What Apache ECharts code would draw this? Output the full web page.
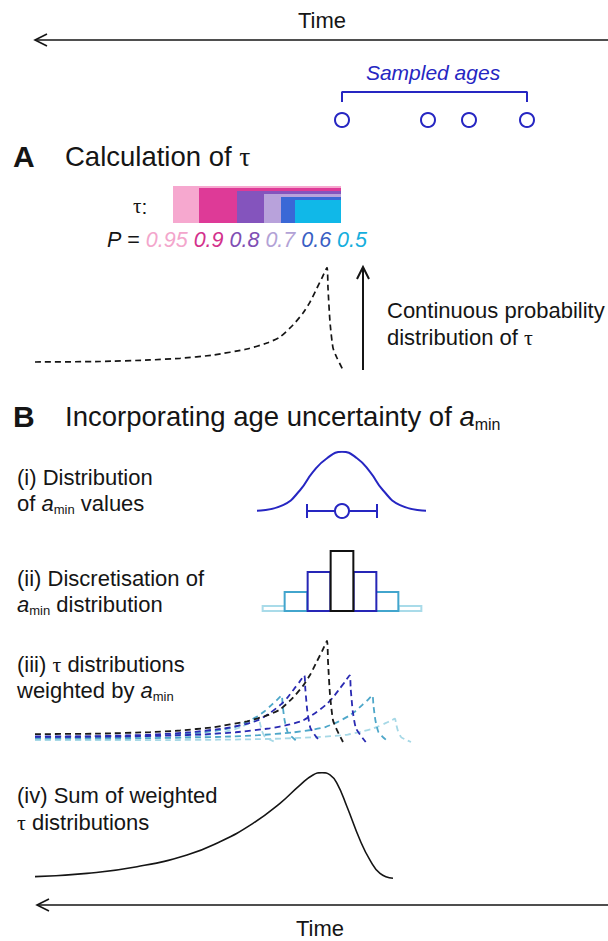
<!DOCTYPE html>
<html><head><meta charset="utf-8">
<script src="https://cdn.jsdelivr.net/npm/echarts@6/dist/echarts.min.js"></script>
<style>html,body{margin:0;padding:0;background:#fff}#c{width:608px;height:941px}</style>
</head><body><div id="c"></div>
<script>
// ---------------- data (x values are positions on the time axis) ----------------
const sampledAges = [342, 428, 469, 527];

const pLevels   = ['0.95', '0.9', '0.8', '0.7', '0.6', '0.5'];
const tauStart  = [173, 199, 237, 264, 281, 295];
const tauEnd    = 341;
const tauHeight = [1.0, 0.946, 0.865, 0.784, 0.703, 0.622];
const tauColors = ['#f6a8cf', '#de3a97', '#8454bd', '#b8a2db', '#3a68d6', '#10b8e8'];
const pColors   = ['#f3a6cc', '#d3318c', '#7f4fb4', '#b2a2d6', '#3a5fc4', '#14aedd'];

const tauCurveX = [35, 100, 150, 180, 213, 247, 267, 280, 293, 303, 310, 317, 322, 327, 328, 330, 333, 337, 343];
const tauCurveY = [0.078, 0.083, 0.098, 0.114, 0.146, 0.205, 0.263, 0.322, 0.439, 0.556, 0.663, 0.800, 0.898, 1.000, 0.800, 0.468, 0.215, 0.117, 0.000];

const gaussX = [257, 283, 300, 313, 327, 342, 357, 370, 383, 400, 426];
const gaussY = [0.005, 0.10, 0.35, 0.66, 0.89, 1.00, 0.89, 0.66, 0.35, 0.10, 0.005];
const aminMean = 342, aminLow = 307, aminHigh = 377;

const binCentres = [274, 296, 319, 342, 365, 387, 410];
const binWeights = [0.083, 0.317, 0.65, 1.0, 0.65, 0.317, 0.083];
const binClass   = [0, 1, 2, 3, 2, 1, 0];
const binWidth   = 22.7;

const weightedShift  = [-68, -45.4, -22.7, 0, 22.7, 45.4, 68];
const weightedHeight = [0.23, 0.46, 0.66, 1.0, 0.66, 0.46, 0.23];

const sumX = [35, 87, 137, 187, 220, 253, 280, 300, 313, 322, 330, 337, 347, 360, 370, 380, 393];
const sumY = [0.031, 0.062, 0.124, 0.233, 0.357, 0.528, 0.715, 0.885, 0.979, 1.0, 0.979, 0.901, 0.683, 0.373, 0.186, 0.062, 0.016];

// ---------------- styles ----------------
const FONT = '"Liberation Sans", Arial, sans-serif';
const SERIF = '"Liberation Serif", "DejaVu Serif", serif';
const INK = '#151515';
const BLUE = '#2626c2';
const histStroke = ['#a9dbe9', '#42a5cd', '#2626b6', '#111111'];
const curveStroke = ['#a6d8e6', '#4ea7c9', '#2a2ab2', '#1a1a1a'];

const grids = [
  {left: 0, right: 0, top: 92,    height: 28},     // 0 sampled ages
  {left: 0, right: 0, top: 186,   height: 37},     // 1 tau bar
  {left: 0, right: 0, top: 267.5, height: 102.5},  // 2 A curve
  {left: 0, right: 0, top: 451.7, height: 59.3},   // 3 gaussian
  {left: 0, right: 0, top: 551,   height: 60},     // 4 histogram
  {left: 35, right: 0, top: 641,  height: 101},    // 5 weighted curves
  {left: 0, right: 0, top: 772.7, height: 107.3}   // 6 sum
];
const xAxes = grids.map((g, i) => ({type: 'value', gridIndex: i, min: i === 5 ? 35 : 0, max: 608, show: false}));
const yAxes = grids.map((g, i) => ({type: 'value', gridIndex: i, min: 0, max: 1, show: false}));

const zip = (xs, ys) => xs.map((x, i) => [x, ys[i]]);

function weightedCurve(shift, w) {
  const pts = tauCurveX.map((x, i) => [x + shift, tauCurveY[i] * w]).filter(p => p[0] >= 35);
  if (pts[0][0] > 35) pts.unshift([35, pts[0][1]]);
  return pts;
}

const series = [];

// sampled ages bracket + circles
const aMin = Math.min(...sampledAges), aMax = Math.max(...sampledAges);
series.push({type: 'line', xAxisIndex: 0, yAxisIndex: 0, symbol: 'none', silent: true,
  data: [[aMin, 0.64], [aMin, 1], [aMax, 1], [aMax, 0.64]],
  lineStyle: {color: BLUE, width: 2}});
series.push({type: 'scatter', xAxisIndex: 0, yAxisIndex: 0, symbol: 'circle', symbolSize: 14, silent: true,
  data: sampledAges.map(a => [a, 0]),
  itemStyle: {color: '#fff', borderColor: BLUE, borderWidth: 2, opacity: 1}});

// tau bar
series.push({type: 'custom', xAxisIndex: 1, yAxisIndex: 1, silent: true,
  data: tauStart.map((s, i) => [s, tauEnd, tauHeight[i]]),
  renderItem: (params, api) => {
    const p0 = api.coord([api.value(0), api.value(2)]);
    const p1 = api.coord([api.value(1), 0]);
    return {type: 'rect', shape: {x: p0[0], y: p0[1], width: p1[0] - p0[0], height: p1[1] - p0[1]},
      style: {fill: tauColors[params.dataIndex]}};
  }});

// A: continuous tau distribution
series.push({type: 'line', xAxisIndex: 2, yAxisIndex: 2, symbol: 'none', smooth: 0.2, silent: true,
  data: zip(tauCurveX, tauCurveY), lineStyle: {color: INK, width: 1.7, type: [6, 4]}});

// B(i) gaussian + error bar
series.push({type: 'line', xAxisIndex: 3, yAxisIndex: 3, symbol: 'none', smooth: true, silent: true,
  data: zip(gaussX, gaussY), lineStyle: {color: BLUE, width: 2}});
series.push({type: 'custom', xAxisIndex: 3, yAxisIndex: 3, silent: true,
  data: [[aminLow, aminHigh, 0]],
  renderItem: (params, api) => {
    const l = api.coord([api.value(0), api.value(2)]);
    const r = api.coord([api.value(1), api.value(2)]);
    const st = {stroke: BLUE, lineWidth: 2};
    return {type: 'group', children: [
      {type: 'line', shape: {x1: l[0], y1: l[1], x2: r[0], y2: r[1]}, style: st},
      {type: 'line', shape: {x1: l[0], y1: l[1] - 7, x2: l[0], y2: l[1] + 7}, style: st},
      {type: 'line', shape: {x1: r[0], y1: r[1] - 7, x2: r[0], y2: r[1] + 7}, style: st}
    ]};
  }});
series.push({type: 'scatter', xAxisIndex: 3, yAxisIndex: 3, symbol: 'circle', symbolSize: 14, z: 5, silent: true,
  data: [[aminMean, 0]], itemStyle: {color: '#fff', borderColor: BLUE, borderWidth: 2, opacity: 1}});

// B(ii) histogram (drawn light -> dark)
const histOrder = binCentres.map((c, i) => i).sort((a, b) => binClass[a] - binClass[b]);
series.push({type: 'custom', xAxisIndex: 4, yAxisIndex: 4, silent: true,
  data: histOrder.map(i => [binCentres[i], binWeights[i], binClass[i]]),
  renderItem: (params, api) => {
    const c = api.value(0), h = api.value(1), k = api.value(2);
    const p0 = api.coord([c - binWidth / 2, h]);
    const p1 = api.coord([c + binWidth / 2, 0]);
    return {type: 'rect', shape: {x: p0[0], y: p0[1], width: p1[0] - p0[0], height: p1[1] - p0[1]},
      style: {fill: '#fff', stroke: histStroke[k], lineWidth: 2}};
  }});

// B(iii) weighted tau distributions
const wOrder = weightedShift.map((s, i) => i).sort((a, b) => binClass[a] - binClass[b]);
wOrder.forEach(i => {
  series.push({type: 'line', xAxisIndex: 5, yAxisIndex: 5, symbol: 'none', smooth: 0.2, silent: true,
    data: weightedCurve(weightedShift[i], weightedHeight[i]),
    lineStyle: {color: curveStroke[binClass[i]], width: 1.8, type: [6, 4]}});
});

// B(iv) sum
series.push({type: 'line', xAxisIndex: 6, yAxisIndex: 6, symbol: 'none', smooth: true, silent: true,
  data: zip(sumX, sumY), lineStyle: {color: INK, width: 1.6}});

// ---------------- text & arrows ----------------
function txt(x, y, text, size, extra) {
  return {type: 'text', x: x, y: y, silent: true,
    style: Object.assign({text: text, fill: INK, font: size + 'px ' + FONT, verticalAlign: 'middle', lineHeight: Math.round(size * 1.2)}, extra || {})};
}
const subRich = (size) => ({
  a: {fontStyle: 'italic', fontSize: size, fontFamily: FONT, fill: INK},
  s: {fontSize: Math.round(size * 0.58), fontFamily: FONT, fill: INK, verticalAlign: 'bottom', lineHeight: Math.round(size * 0.62)},
  t: {fontSize: size, fontFamily: SERIF, fill: INK}
});
function arrowH(x1, x2, y) {
  return [
    {type: 'line', silent: true, shape: {x1: x1, y1: y, x2: x2, y2: y}, style: {stroke: INK, lineWidth: 1.6}},
    {type: 'polyline', silent: true, shape: {points: [[x1 + 12, y - 6], [x1, y], [x1 + 12, y + 6]]}, style: {stroke: INK, lineWidth: 1.6, fill: null}}
  ];
}

let pRow = '{p|P} = ';
pLevels.forEach((p, i) => { pRow += '{c' + i + '|' + p + '}' + (i < pLevels.length - 1 ? ' ' : ''); });
const pRich = {p: {fontStyle: 'italic', fontSize: 21.5, fontFamily: FONT, fill: INK}};
pLevels.forEach((p, i) => { pRich['c' + i] = {fontStyle: 'italic', fontSize: 21.5, fontFamily: FONT, fill: pColors[i]}; });

const graphics = [].concat(
  arrowH(35, 608, 40),
  arrowH(37, 608, 905),
  [
    txt(322, 20, 'Time', 22, {align: 'center'}),
    txt(320, 928, 'Time', 22, {align: 'center'}),
    txt(433, 72, 'Sampled ages', 21, {align: 'center', fill: BLUE, font: 'italic 21px ' + FONT}),
    txt(13, 156, 'A', 30, {font: 'bold 30px ' + FONT}),
    txt(65, 156, 'Calculation of {t|τ}', 27.5, {rich: subRich(27.5)}),
    txt(133, 206, '{t|τ}:', 21, {rich: subRich(21)}),
    txt(107, 240, pRow, 21.5, {rich: pRich}),
    txt(387, 310, 'Continuous probability', 22),
    txt(387, 337, 'distribution of {t|τ}', 22, {rich: subRich(22)}),
    txt(13, 416, 'B', 30, {font: 'bold 30px ' + FONT}),
    txt(65, 416, 'Incorporating age uncertainty of {a|a}{s|min}', 27.5, {rich: subRich(27.5)}),
    txt(17, 477, '(i) Distribution', 22),
    txt(17, 503, 'of {a|a}{s|min} values', 22, {rich: subRich(22)}),
    txt(17, 578, '(ii) Discretisation of', 22),
    txt(17, 604, '{a|a}{s|min} distribution', 22, {rich: subRich(22)}),
    txt(17, 664, '(iii) {t|τ} distributions', 22, {rich: subRich(22)}),
    txt(17, 690, 'weighted by {a|a}{s|min}', 22, {rich: subRich(22)}),
    txt(17, 795, '(iv) Sum of weighted', 22),
    txt(17, 822, '{t|τ} distributions', 22, {rich: subRich(22)}),
    {type: 'line', silent: true, shape: {x1: 363, y1: 370, x2: 363, y2: 267}, style: {stroke: INK, lineWidth: 2}},
    {type: 'polyline', silent: true, shape: {points: [[357, 279], [363, 267], [369, 279]]}, style: {stroke: INK, lineWidth: 2, fill: null}}
  ]
);

const chart = echarts.init(document.getElementById('c'), null, {renderer: 'svg'});
chart.setOption({
  animation: false,
  backgroundColor: '#fff',
  grid: grids,
  xAxis: xAxes,
  yAxis: yAxes,
  series: series,
  graphic: graphics
});
</script>
</body></html>
